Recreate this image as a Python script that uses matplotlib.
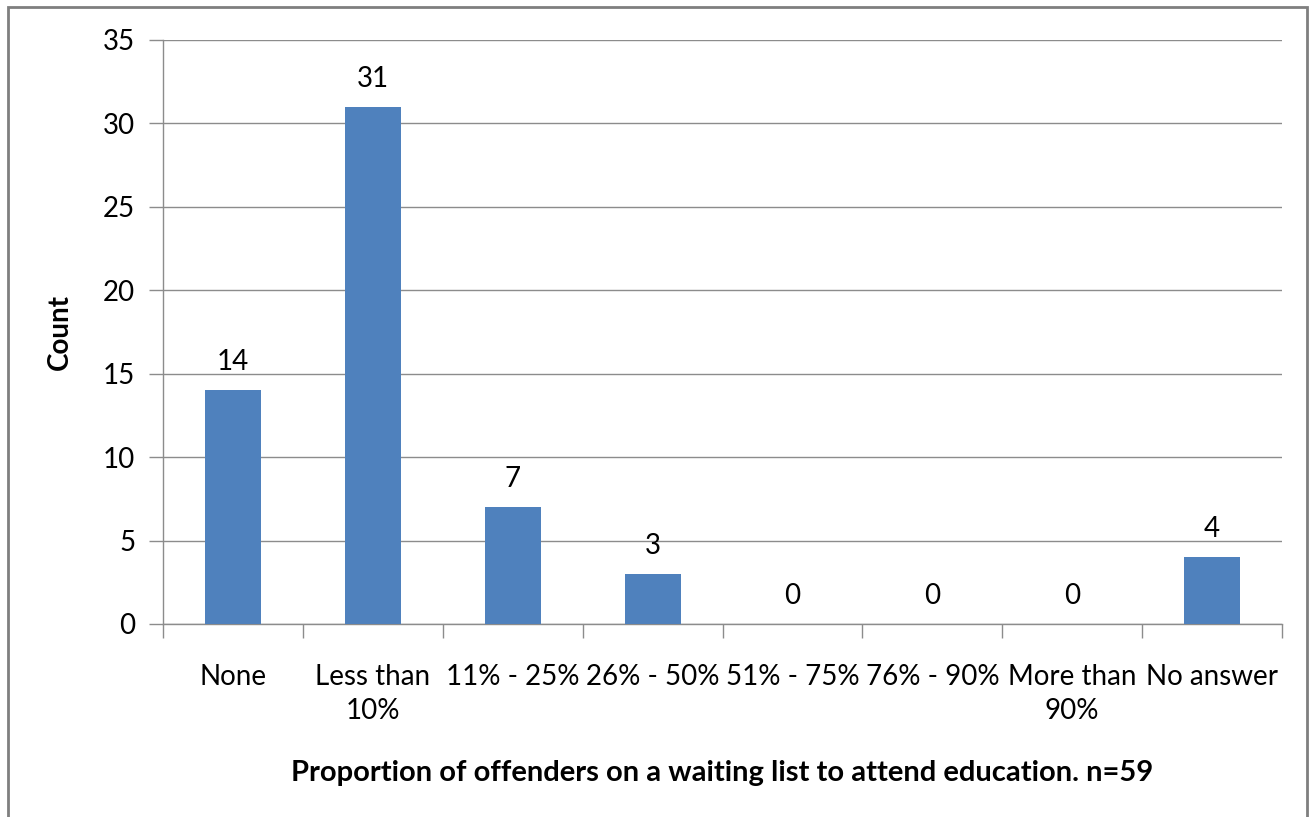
import numpy as np
import matplotlib.pyplot as plt
from matplotlib.patches import Rectangle

categories = ['None', 'Less than\n10%', '11% - 25%', '26% - 50%', '51% - 75%',
              '76% - 90%', 'More than\n90%', 'No answer']
counts = [14, 31, 7, 3, 0, 0, 0, 4]
y_ticks = [0, 5, 10, 15, 20, 25, 30, 35]

plt.rcParams['font.family'] = ['Lato', 'DejaVu Sans']
fontsize = 20
grid_col = '#8c8c8c'

fig = plt.figure(figsize=(13.14, 8.17), dpi=100)
# outer chart frame
fig.patches.append(Rectangle((8 / 1314, -0.05), (1307 - 8) / 1314, 1.05 - 7 / 817,
                             transform=fig.transFigure, fill=False,
                             edgecolor='#7f7f7f', linewidth=2))

ax = fig.add_axes([163 / 1314, 1 - 624 / 817, (1282 - 163) / 1314, (624 - 40) / 817])
x = np.arange(len(categories))
ax.bar(x, counts, width=0.4, color='#4F81BD', zorder=3)
for xi, c in zip(x, counts):
    ax.text(xi, c + 0.9, str(c), ha='center', va='bottom', fontsize=fontsize)

ax.set_xlim(-0.5, len(categories) - 0.5)
ax.set_ylim(0, 35)
ax.set_yticks(y_ticks)
ax.yaxis.grid(True, color=grid_col, linewidth=1)
ax.set_axisbelow(True)
ax.set_xticks(x)
ax.set_xticklabels(categories, fontsize=fontsize, linespacing=1.35)
ax.set_xticks(np.arange(len(categories) + 1) - 0.5, minor=True)
ax.tick_params(axis='x', which='major', length=0, pad=29)
ax.tick_params(axis='x', which='minor', length=10, color=grid_col, width=1)
ax.tick_params(axis='y', length=10, color=grid_col, width=1, labelsize=fontsize, pad=10)
for s in ['top', 'right']:
    ax.spines[s].set_visible(False)
for s in ['left', 'bottom']:
    ax.spines[s].set_color(grid_col)
    ax.spines[s].set_linewidth(1)

ax.set_ylabel('Count', fontsize=fontsize, fontweight='bold', labelpad=22)
fig.text((163 + 1282) / 2 / 1314, 1 - 773 / 817,
         'Proportion of offenders on a waiting list to attend education. n=59',
         ha='center', va='center', fontsize=21, fontweight='bold')

fig.savefig('out.png', dpi=100)
